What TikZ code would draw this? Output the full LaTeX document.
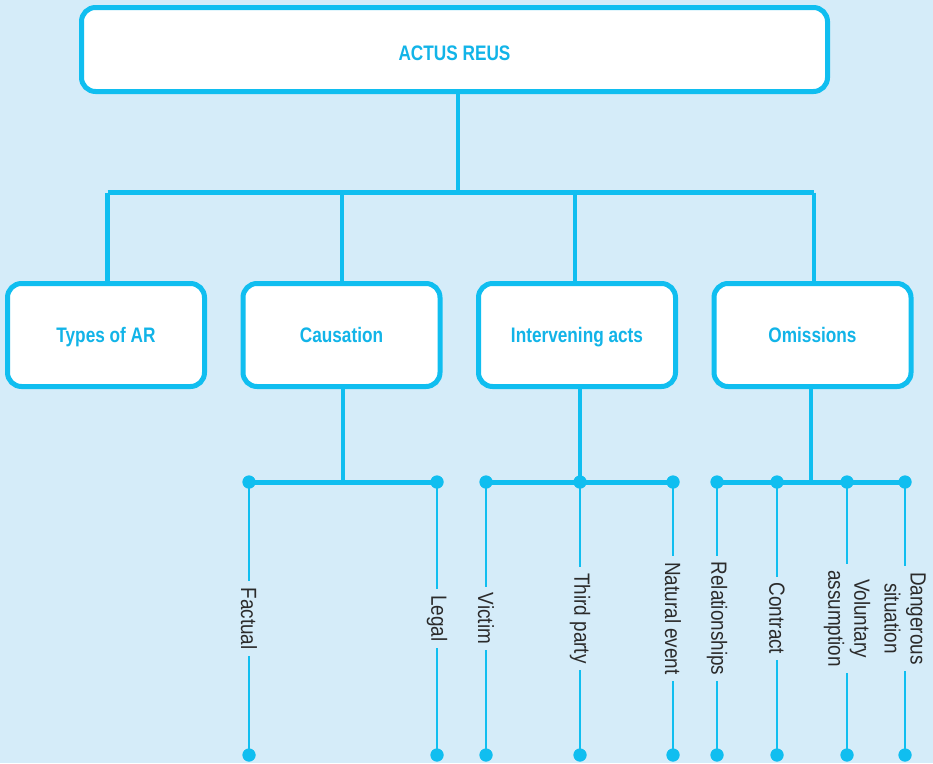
\documentclass[tikz,border=0pt]{standalone}
\usepackage{fontspec}
\setmainfont{Liberation Sans}[FakeStretch=0.82]
\newfontfamily\leaffont{Liberation Sans}[FakeStretch=0.86]
\definecolor{paper}{HTML}{D5ECF9}
\definecolor{wire}{HTML}{10BEF0}
\definecolor{boxtext}{HTML}{12B4E8}
\definecolor{leaftext}{HTML}{2B2B2B}
\tikzset{
  headbox/.style={draw=wire, fill=white, line width=5pt, rounded corners=14pt,
    inner sep=0pt, text depth=0pt, font=\fontsize{21}{25}\selectfont\bfseries, text=boxtext},
  topbox/.style={headbox, text height=22pt, minimum width=746pt, minimum height=84pt},
  subbox/.style={headbox, text height=15pt, minimum width=197pt, minimum height=103pt},
  bus/.style={draw=wire, line width=5pt},
  stem/.style={draw=wire, line width=4.6pt},
  leaf/.style={draw=wire, line width=2.7pt},
  joint/.style={circle, fill=wire, inner sep=0pt, minimum size=13pt},
  leaflabel/.style={rotate=-90, fill=paper, inner xsep=6pt, inner ysep=3pt,
    align=center, text=leaftext, font=\leaffont\fontsize{22}{26}\selectfont}
}
\begin{document}
\begin{tikzpicture}[x=1pt, y=-1pt]
  \fill[paper] (0,0) rectangle (933,763);
  \useasboundingbox (0,0) rectangle (933,763);

  % boxes
  \node[topbox] (actus) at (454.5,49.5) {ACTUS REUS};
  \node[subbox] (types) at (106,335) {Types of AR};
  \node[subbox] (caus)  at (341.5,335) {Causation};
  \node[subbox] (inter) at (577,335) {Intervening acts};
  \node[subbox] (omis)  at (812.5,335) {Omissions};

  % upper bus
  \coordinate (hub) at (458,192.5);
  \coordinate (b1) at (107.5,192.5);
  \coordinate (b2) at (342,192.5);
  \coordinate (b3) at (575,192.5);
  \coordinate (b4) at (814,192.5);
  \draw[stem] (actus.south -| hub) -- (hub);
  \draw[bus] (b1) -- (b4);
  \draw[stem] (b1) -- (b1 |- types.north);
  \draw[stem] (b2) -- (b2 |- caus.north);
  \draw[stem] (b3) -- (b3 |- inter.north);
  \draw[stem] (b4) -- (b4 |- omis.north);

  % upper joints of the lower buses
  \node[joint] (ct1) at (249,482) {};
  \node[joint] (ct2) at (437,482) {};
  \node[joint] (it1) at (486,482) {};
  \node[joint] (it2) at (580,482) {};
  \node[joint] (it3) at (673,482) {};
  \node[joint] (ot1) at (717,482) {};
  \node[joint] (ot2) at (777,482) {};
  \node[joint] (ot3) at (847,482) {};
  \node[joint] (ot4) at (905,482) {};
  % lower joints
  \node[joint] (cb1) at (249,755) {};
  \node[joint] (cb2) at (437,755) {};
  \node[joint] (ib1) at (486,755) {};
  \node[joint] (ib2) at (580,755) {};
  \node[joint] (ib3) at (673,755) {};
  \node[joint] (ob1) at (717,755) {};
  \node[joint] (ob2) at (777,755) {};
  \node[joint] (ob3) at (847,755) {};
  \node[joint] (ob4) at (905,755) {};

  % lower buses
  \coordinate (ch) at (343,482);
  \coordinate (om) at (811,482);
  \draw[stem] (caus.south -| ch) -- (ch);
  \draw[bus] (ct1.center) -- (ct2.center);
  \draw[stem] (inter.south -| it2) -- (it2.center);
  \draw[bus] (it1.center) -- (it3.center);
  \draw[stem] (omis.south -| om) -- (om);
  \draw[bus] (ot1.center) -- (ot4.center);

  % leaves
  \draw[leaf] (ct1.center) -- node[leaflabel] {Factual} (cb1.center);
  \draw[leaf] (ct2.center) -- node[leaflabel] {Legal} (cb2.center);
  \draw[leaf] (it1.center) -- node[leaflabel] {Victim} (ib1.center);
  \draw[leaf] (it2.center) -- node[leaflabel] {Third party} (ib2.center);
  \draw[leaf] (it3.center) -- node[leaflabel] {Natural event} (ib3.center);
  \draw[leaf] (ot1.center) -- node[leaflabel] {Relationships} (ob1.center);
  \draw[leaf] (ot2.center) -- node[leaflabel] {Contract} (ob2.center);
  \draw[leaf] (ot3.center) -- node[leaflabel] {Voluntary\\assumption} (ob3.center);
  \draw[leaf] (ot4.center) -- node[leaflabel] {Dangerous\\situation} (ob4.center);

  % joints drawn over the line ends
  \foreach \j in {ct1,ct2,it1,it2,it3,ot1,ot2,ot3,ot4,cb1,cb2,ib1,ib2,ib3,ob1,ob2,ob3,ob4}
    \fill[wire] (\j.center) circle (6.5pt);
\end{tikzpicture}
\end{document}
